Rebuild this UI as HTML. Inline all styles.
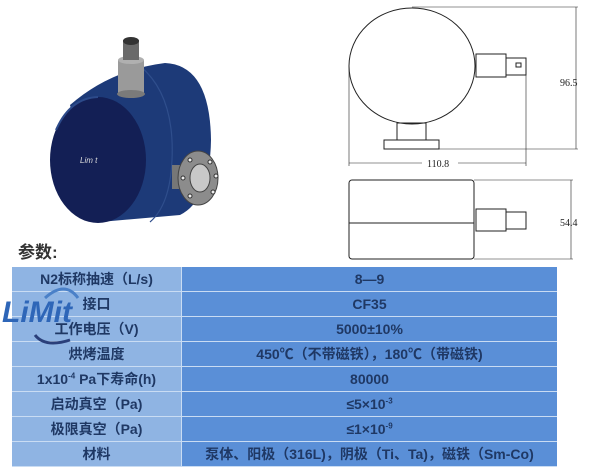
<!DOCTYPE html>
<html><head><meta charset="utf-8"><style>
body{margin:0;width:600px;height:465px;background:#fff;position:relative;overflow:hidden;font-family:"Liberation Sans","Noto Sans CJK SC",sans-serif}
.t{position:absolute;left:12px;top:267px;width:545px;border-collapse:collapse}
.t td{height:24px;padding:0;text-align:center;font-weight:bold;font-size:14px;color:#1f3864;border-bottom:1px solid #c9dcf3;white-space:nowrap;overflow:hidden}
.t td.a{background:#8fb4e3;width:169px;border-right:1px solid #c9dcf3}
.t td.b{background:#5a8fd7}
sup{font-size:8px}
</style></head><body>
<svg width="600" height="465" style="position:absolute;left:0;top:0">
<!-- 3D pump -->
<path d="M70,105 Q110,70 165,63 Q210,65 211,140 Q210,200 180,215 L100,222 Z" fill="#1d3a78"/>
<path d="M140,66 Q175,95 172,160 Q170,205 150,222" fill="none" stroke="#2f4e8c" stroke-width="1.2"/>
<ellipse cx="98" cy="160" rx="48" ry="63" fill="#131f55"/>
<path d="M56,130 Q70,98 98,97" fill="none" stroke="#2c4a8a" stroke-width="2"/>
<text x="80" y="163" font-size="8" fill="#ddd" font-family="Liberation Sans" font-style="italic">Lim t</text>
<rect x="118" y="60" width="26" height="34" fill="#9a9a9a"/>
<ellipse cx="131" cy="94" rx="14" ry="4" fill="#7a7a7a"/>
<ellipse cx="131" cy="60" rx="13" ry="4" fill="#b0b0b0"/>
<rect x="123" y="40" width="16" height="20" fill="#6a6a6a"/>
<ellipse cx="131" cy="41" rx="8" ry="4" fill="#333"/>
<rect x="172" y="165" width="20" height="24" fill="#777"/>
<ellipse cx="198" cy="178" rx="20" ry="27" fill="#8c8c8c" stroke="#444"/>
<ellipse cx="200" cy="178" rx="10" ry="14" fill="#c8c8c8" stroke="#444"/>
<g fill="#eee" stroke="#333"><circle cx="190" cy="160" r="2"/><circle cx="210" cy="162" r="2"/><circle cx="213" cy="192" r="2"/><circle cx="190" cy="196" r="2"/><circle cx="183" cy="178" r="2"/><circle cx="216" cy="176" r="2"/></g>
<!-- front drawing -->
<g fill="none" stroke="#222" stroke-width="1">
<ellipse cx="412" cy="66" rx="63" ry="58"/>
<rect x="476" y="54" width="30" height="23"/>
<rect x="506" y="58" width="20" height="17"/>
<rect x="516" y="63" width="5" height="4"/>
<rect x="397" y="123" width="29" height="17"/>
<rect x="384" y="140" width="55" height="9"/>
<line x1="412" y1="7" x2="578" y2="7" stroke-width=".6"/>
<line x1="439" y1="149" x2="578" y2="149" stroke-width=".6"/>
<line x1="576" y1="7" x2="576" y2="149" stroke-width=".6"/>
<line x1="349" y1="66" x2="349" y2="166" stroke-width=".6"/>
<line x1="526" y1="75" x2="526" y2="166" stroke-width=".6"/>
<line x1="349" y1="163" x2="422" y2="163" stroke-width=".6"/>
<line x1="458" y1="163" x2="526" y2="163" stroke-width=".6"/>
<!-- side -->
<rect x="349" y="180" width="125" height="79" rx="3"/>
<line x1="349" y1="223" x2="474" y2="223"/>
<rect x="476" y="209" width="30" height="22"/>
<rect x="506" y="212" width="20" height="17"/>
<line x1="474" y1="180" x2="573" y2="180" stroke-width=".6"/>
<line x1="571" y1="180" x2="571" y2="259" stroke-width=".6"/>
<line x1="474" y1="259" x2="573" y2="259" stroke-width=".6"/>
</g>
<text x="560" y="86" font-size="10" font-family="Liberation Serif" fill="#222">96.5</text>
<text x="427" y="167" font-size="10" font-family="Liberation Serif" fill="#222">110.8</text>
<text x="560" y="226" font-size="10" font-family="Liberation Serif" fill="#222">54.4</text>
</svg>
<div style="position:absolute;left:18px;top:238px;font-size:17px;font-weight:bold;color:#333">参数:</div>
<table class="t">
<tr><td class="a">N2标称抽速（L/s)</td><td class="b">8—9</td></tr>
<tr><td class="a">接口</td><td class="b">CF35</td></tr>
<tr><td class="a">工作电压（V)</td><td class="b">5000±10%</td></tr>
<tr><td class="a">烘烤温度</td><td class="b">450℃（不带磁铁），180℃（带磁铁)</td></tr>
<tr><td class="a">1x10<sup>-4</sup> Pa下寿命(h)</td><td class="b">80000</td></tr>
<tr><td class="a">启动真空（Pa)</td><td class="b">≤5×10<sup>-3</sup></td></tr>
<tr><td class="a">极限真空（Pa)</td><td class="b">≤1×10<sup>-9</sup></td></tr>
<tr><td class="a">材料</td><td class="b">泵体、阳极（316L)，阴极（Ti、Ta)，磁铁（Sm-Co)</td></tr>
</table>
<svg width="110" height="70" style="position:absolute;left:0;top:280px">
<path d="M35,55 Q45,68 70,60" fill="none" stroke="#2a3f7a" stroke-width="3"/>
<path d="M45,18 Q65,0 78,18" fill="none" stroke="#4a80c8" stroke-width="3"/>
<text x="2" y="42" font-size="30" font-weight="bold" font-style="italic" fill="#2e66b8" font-family="Liberation Sans">LiMit</text>
</svg>
</body></html>
